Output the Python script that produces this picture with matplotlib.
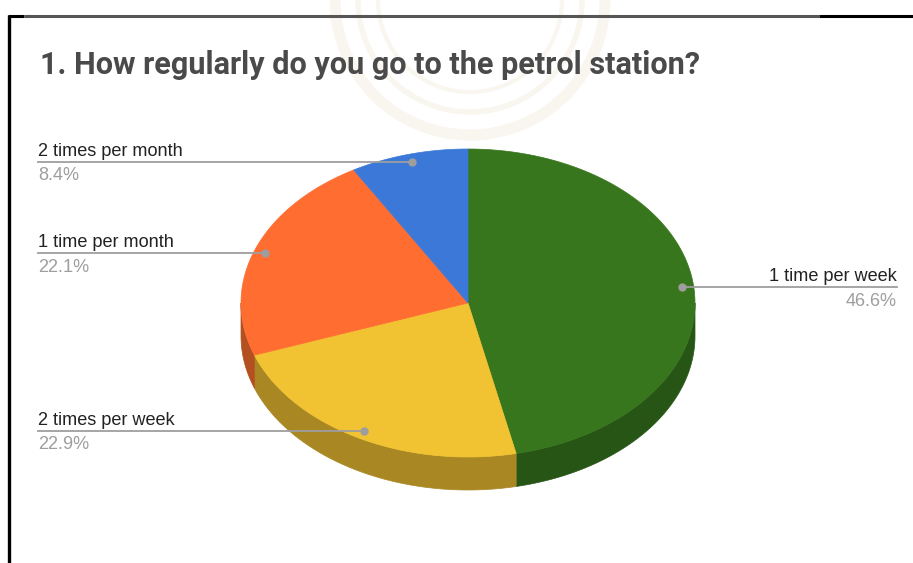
import numpy as np
import matplotlib.pyplot as plt
from matplotlib.patches import Polygon, Circle

# survey answers, clockwise from 12 o'clock
labels = ["1 time per week", "2 times per week", "1 time per month", "2 times per month"]
shares = [46.6, 22.9, 22.1, 8.4]
colors = ["#38761d", "#f1c232", "#ff6d31", "#3c78d8"]
side_colors = ["#275516", "#a98824", "#b4501f", "#2a5498"]
title = "1. How regularly do you go to the petrol station?"

# pie layout in pixel units
CX, CY = 468, 303
RX, RY = 227, 154
DEPTH = 33
LEFT_X, RIGHT_X = 38, 897


def rim(t0, t1, r=1.0, dy=0.0, n=90):
    t = np.radians(np.linspace(t0, t1, n))
    return np.column_stack([CX + r * RX * np.sin(t), CY - r * RY * np.cos(t) + dy])


fig = plt.figure(figsize=(9.13, 5.63), dpi=100)
ax = fig.add_axes([0, 0, 1, 1])
ax.set_xlim(0, 913)
ax.set_ylim(563, 0)
ax.axis("off")

# faint seal in the background
for rad, w in [(135, 8), (112, 4), (92, 3)]:
    ax.add_patch(Circle((470, 0), rad, fill=False, ec="#f3ecdc", lw=w, alpha=0.45, zorder=0))

# frame
ax.plot([9, 9], [15, 563], color="black", lw=2.4, solid_capstyle="butt")
ax.plot([8, 24], [15.5, 15.5], color="black", lw=2.2, solid_capstyle="butt")
ax.plot([24, 819], [15.5, 15.5], color="#555555", lw=2.2, solid_capstyle="butt")
ax.plot([819, 913], [15.5, 15.5], color="black", lw=2.2, solid_capstyle="butt")

ax.text(40, 74, title, fontsize=22.1, fontweight="bold", family="Roboto",
        color="#4a4a4a", va="baseline", ha="left")

edges = np.concatenate([[0], np.cumsum(shares)]) / sum(shares) * 360

# side walls of the front half
for i in range(len(shares)):
    lo, hi = max(edges[i], 90), min(edges[i + 1], 270)
    if lo < hi:
        top = rim(lo, hi)
        bot = rim(lo, hi, dy=DEPTH)[::-1]
        ax.add_patch(Polygon(np.vstack([top, bot]), closed=True, fc=side_colors[i],
                             ec=side_colors[i], lw=0.5, zorder=2))

# top faces
for i in range(len(shares)):
    pts = np.vstack([[CX, CY], rim(edges[i], edges[i + 1])])
    ax.add_patch(Polygon(pts, closed=True, fc=colors[i], ec=colors[i], lw=0.5, zorder=3))

# leader lines and labels
for i, (lab, v) in enumerate(zip(labels, shares)):
    mid = (edges[i] + edges[i + 1]) / 2
    px, py = rim(mid, mid, r=0.95, n=1)[0]
    if np.sin(np.radians(mid)) > 0:
        ax.plot([px, RIGHT_X], [py, py], color="#9e9e9e", lw=1.3, zorder=4)
        tx, ha = RIGHT_X, "right"
    else:
        ax.plot([LEFT_X, px], [py, py], color="#9e9e9e", lw=1.3, zorder=4)
        tx, ha = LEFT_X, "left"
    ax.plot(px, py, "o", ms=5, color="#9e9e9e", zorder=5)
    ax.text(tx, py - 6, lab, fontsize=13.1, family="Liberation Sans",
            color="#222222", ha=ha, va="baseline")
    ax.text(tx, py + 18.5, f"{v:.1f}%", fontsize=13.1, family="Liberation Sans",
            color="#9e9e9e", ha=ha, va="baseline")

fig.savefig("out.png", dpi=100)
